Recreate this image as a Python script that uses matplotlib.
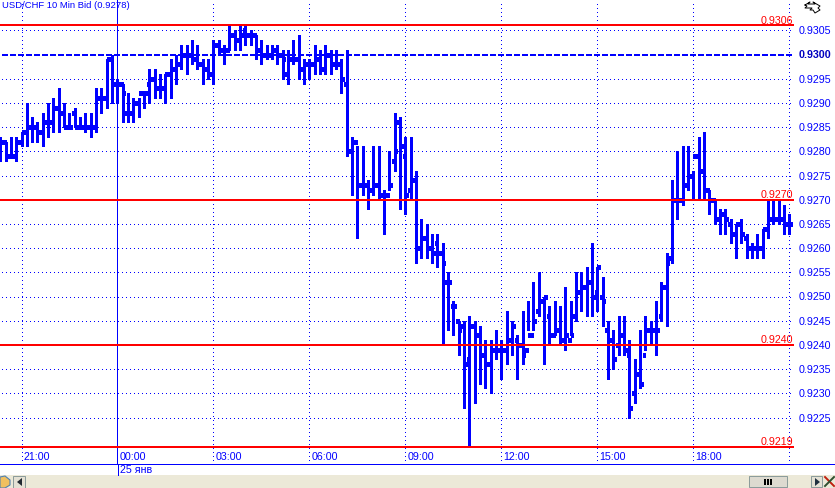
"""
USD/CHF 10 minute bid bar chart with support / resistance lines.
"""

import numpy as np
import matplotlib
matplotlib.use('Agg')
import matplotlib.pyplot as plt
from matplotlib.patches import Rectangle, Polygon

plt.rcParams['font.family'] = ['Liberation Sans', 'DejaVu Sans']

BLUE = '#0000FF'
RED = '#FF0000'

# prices in pips (0.0001), first bar is 40 minutes before 21:00
high = [9283, 9282, 9283, 9283, 9284,
        9290, 9287, 9286, 9288, 9290, 9291, 9293, 9290, 9288, 9289, 9287, 9288, 9288, 9293, 9293, 9299, 9300, 9295,
        9294, 9292, 9291, 9291, 9292, 9297, 9297, 9296, 9296, 9299, 9300, 9302, 9302, 9303, 9302, 9299, 9299, 9303,
        9303, 9302, 9306, 9305, 9306, 9306, 9305, 9304, 9303, 9302, 9302, 9302,
        9301, 9301, 9303, 9304, 9299, 9299, 9302, 9301, 9302, 9301, 9301, 9299, 9301, 9283, 9281, 9281, 9274, 9281,
        9281, 9272, 9280, 9288, 9287, 9283, 9283, 9276, 9266, 9265, 9263, 9263, 9261, 9255, 9249, 9245, 9245, 9246,
        9245, 9244, 9241, 9241, 9243, 9241, 9247, 9245, 9242, 9247, 9249, 9253, 9255, 9250, 9248, 9249, 9248, 9252,
        9249, 9255, 9255, 9256, 9261, 9256, 9254, 9245, 9243, 9246, 9246, 9241, 9237, 9243, 9246, 9245, 9249, 9253,
        9259, 9274, 9280, 9281, 9281, 9276, 9283, 9284, 9272, 9270, 9268, 9268, 9266, 9265, 9266, 9263, 9261, 9263,
        9264, 9270, 9270, 9270, 9269, 9267]
low = [9278, 9278, 9279, 9278, 9281,
       9281, 9282, 9282, 9281, 9283, 9284, 9284, 9285, 9285, 9285, 9285, 9284, 9283, 9284, 9288, 9289, 9290, 9290,
       9286, 9286, 9286, 9287, 9289, 9290, 9291, 9291, 9290, 9291, 9294, 9297, 9296, 9298, 9297, 9294, 9295, 9294,
       9300, 9298, 9301, 9301, 9301, 9302, 9302, 9299, 9298, 9299, 9299, 9298,
       9295, 9294, 9298, 9295, 9294, 9295, 9296, 9296, 9296, 9296, 9297, 9292, 9279, 9271, 9262, 9271, 9268, 9271,
       9270, 9263, 9272, 9276, 9268, 9267, 9270, 9257, 9258, 9258, 9257, 9256, 9240, 9243, 9242, 9238, 9227, 9219,
       9228, 9232, 9231, 9230, 9237, 9233, 9236, 9238, 9233, 9236, 9243, 9243, 9246, 9236, 9240, 9242, 9240, 9239,
       9242, 9245, 9247, 9246, 9246, 9247, 9244, 9233, 9235, 9238, 9238, 9225, 9228, 9231, 9239, 9240, 9238, 9245,
       9244, 9257, 9266, 9269, 9272, 9270, 9270, 9270, 9267, 9265, 9263, 9263, 9261, 9258, 9261, 9258, 9258, 9258,
       9258, 9262, 9265, 9265, 9263, 9263]
open_ = [9279, 9282, 9279, 9279, 9282,
         9284, 9285, 9285, 9284, 9286, 9286, 9289, 9288, 9285, 9288, 9285, 9285, 9285, 9285, 9291, 9291, 9299, 9294,
         9294, 9288, 9288, 9290, 9292, 9294, 9295, 9293, 9293, 9296, 9297, 9298, 9300, 9300, 9299, 9298, 9297, 9296,
         9302, 9301, 9301, 9304, 9303, 9305, 9304, 9304, 9301, 9300, 9300, 9301,
         9300, 9296, 9299, 9299, 9297, 9298, 9298, 9299, 9297, 9300, 9298, 9298, 9294, 9280, 9282, 9273, 9273, 9272,
         9273, 9271, 9271, 9278, 9286, 9279, 9272, 9274, 9260, 9262, 9260, 9261, 9259, 9253, 9248, 9245, 9244, 9237,
         9244, 9242, 9238, 9236, 9239, 9239, 9239, 9241, 9241, 9240, 9239, 9242, 9247, 9249, 9246, 9242, 9243, 9241,
         9241, 9246, 9251, 9252, 9253, 9251, 9250, 9243, 9241, 9240, 9242, 9238, 9230, 9234, 9238, 9243, 9243, 9246,
         9252, 9258, 9270, 9270, 9273, 9275, 9279, 9276, 9272, 9270, 9266, 9267, 9265, 9263, 9265, 9262, 9260, 9260,
         9260, 9264, 9266, 9266, 9266, 9265]
close = [9282, 9279, 9279, 9282, 9284,
         9285, 9285, 9284, 9286, 9286, 9289, 9288, 9285, 9285, 9285, 9285, 9285, 9285, 9291, 9291, 9299, 9294, 9294,
         9292, 9288, 9290, 9292, 9292, 9295, 9293, 9293, 9296, 9297, 9298, 9300, 9300, 9299, 9298, 9297, 9296, 9302,
         9301, 9301, 9304, 9303, 9304, 9304, 9304, 9301, 9300, 9300, 9301, 9300,
         9299, 9299, 9299, 9297, 9298, 9298, 9299, 9297, 9300, 9298, 9298, 9295, 9280, 9282, 9273, 9273, 9272, 9273,
         9271, 9271, 9273, 9280, 9281, 9271, 9274, 9260, 9262, 9260, 9259, 9259, 9257, 9253, 9248, 9243, 9236, 9244,
         9242, 9238, 9236, 9239, 9239, 9239, 9241, 9244, 9240, 9238, 9242, 9245, 9249, 9250, 9242, 9243, 9241, 9242,
         9242, 9251, 9252, 9253, 9250, 9256, 9249, 9241, 9237, 9242, 9239, 9227, 9234, 9232, 9243, 9243, 9243, 9252,
         9257, 9270, 9270, 9273, 9275, 9279, 9276, 9272, 9270, 9266, 9267, 9266, 9263, 9265, 9263, 9260, 9260, 9260,
         9264, 9266, 9266, 9266, 9265, 9265]

time_pos = [0, 18, 36, 54, 72, 90, 108, 126]
time_labels = ['21:00', '00:00', '03:00', '06:00', '09:00', '12:00', '15:00', '18:00']
grid_prices = [0.9225, 0.9230, 0.9235, 0.9240, 0.9245, 0.9250, 0.9255, 0.9260, 0.9265, 0.9270,
               0.9275, 0.9280, 0.9285, 0.9290, 0.9295, 0.9300, 0.9305]
red_levels = [0.9306, 0.9270, 0.9240, 0.9219]


def main():
    fig = plt.figure(figsize=(8.35, 4.88), dpi=100, facecolor='white')
    ax = fig.add_axes([0, 24.5 / 488, 794 / 835, 463.5 / 488])
    ax.set_facecolor('white')
    ax.set_xlim(-21.5 / 5.333, (794 - 21.5) / 5.333)
    ax.set_ylim(0.93 - 409.0 / 48400, 0.93 + 54.5 / 48400)
    for s in ax.spines.values():
        s.set_visible(False)

    dotted = (0, (1, 3))
    # dotted grid, 0.9300 gets its own dashed line, 00:00 a solid one
    for p in grid_prices:
        if p == 0.9300:
            continue
        ax.plot([-3.7, 144.6], [p, p], color=BLUE, lw=0.72, ls=dotted, antialiased=False, zorder=1)
    for t in time_pos + [144]:
        if t == 18:
            continue
        ax.plot([t, t], ax.get_ylim(), color=BLUE, lw=0.72, ls=dotted, antialiased=False, zorder=1)
    ax.plot([145, 145], [0.92195, 0.9312], color=BLUE, lw=0.72, ls=dotted, antialiased=False, zorder=1)
    ax.plot([18, 18], ax.get_ylim(), color=BLUE, lw=0.6, antialiased=False, zorder=1)
    ax.plot([-3.7, 145], [0.93, 0.93], color=BLUE, lw=1.44, ls=(0, (2.8, 1.4)), antialiased=False, zorder=2)

    # the bars
    t = np.arange(-4, -4 + len(high))
    h = np.array(high) / 1e4
    l = np.array(low) / 1e4
    o = np.array(open_) / 1e4
    c = np.array(close) / 1e4
    ax.vlines(t, l, h, colors=BLUE, lw=2.16, antialiaseds=False, zorder=3)
    ax.hlines(o, t - 0.5, t, colors=BLUE, lw=2.18, antialiaseds=False, zorder=3)
    ax.hlines(c, t, t + 0.5, colors=BLUE, lw=2.18, antialiaseds=False, zorder=3)

    for p in red_levels:
        ax.plot([-4.03, 145], [p, p], color=RED, lw=1.44, antialiased=False, zorder=4)
        ax.text(144.7, p - 0.00001, '%.4f' % p, color=RED, fontsize=7.7, ha='right', va='bottom', zorder=5)

    # price axis on the right
    ax.yaxis.tick_right()
    ax.set_yticks(grid_prices)
    ax.set_yticklabels(['%.4f' % p for p in grid_prices], color=BLUE, fontsize=7.7)
    ax.tick_params(axis='y', length=0, pad=3)
    for lab, p in zip(ax.get_yticklabels(), grid_prices):
        if p == 0.9300:
            lab.set_fontweight('bold')
            lab.set_color('#0000C0')

    # time labels sit inside the plot above the axis line
    ax.set_xticks([])
    y_lab = 0.93 - (457 - 54.5) / 48400
    for tp, lab in zip(time_pos, time_labels):
        ax.text(tp + 0.33, y_lab, lab, color=BLUE, fontsize=7.7, ha='left', va='center', zorder=5)

    # window chrome, in pixels
    ui = fig.add_axes([0, 0, 1, 1], facecolor='none')
    ui.set_xlim(0, 835)
    ui.set_ylim(488, 0)
    ui.axis('off')
    ui.text(2, 5, 'USD/CHF 10 Min Bid (0.9278)', color=BLUE, fontsize=6.8, ha='left', va='center')
    ui.plot([0, 835], [463.5, 463.5], color=BLUE, lw=0.6, antialiased=False)
    ui.plot([117.5, 117.5], [463.5, 475], color=BLUE, lw=0.6, antialiased=False)
    ui.text(120, 470, '25 янв', color=BLUE, fontsize=7.7, ha='left', va='center')

    ui.add_patch(Rectangle((0, 475), 835, 13, fc='#ECE9D8', ec='none'))
    ui.add_patch(Rectangle((13, 476), 12, 12, fc='#E4E1D4', ec='#8A9A9A', lw=0.7))
    ui.add_patch(Polygon([(22, 478), (22, 486), (17, 482)], fc='#202830', ec='none'))
    ui.add_patch(Rectangle((749, 476), 38, 11, fc='#DDDAD0', ec='#8A9A9A', lw=0.7))
    for xb in (764, 767, 770):
        ui.add_patch(Rectangle((xb, 478.5), 1.6, 6, fc='black', ec='none'))
    ui.add_patch(Rectangle((811, 476), 11, 11, fc='#E4E1D4', ec='#8A9A9A', lw=0.7))
    ui.add_patch(Polygon([(815, 478), (815, 486), (820, 482)], fc='#203040', ec='none'))
    ui.plot([825, 834], [477, 486], color='#C02010', lw=1.4)
    ui.plot([825, 834], [486, 477], color='#305030', lw=1.4)
    ui.add_patch(Polygon([(0, 477), (5, 476), (10, 480), (10, 485), (5, 488), (0, 488)],
                         fc='#F0C060', ec='#5080B0', lw=0.8))

    # small "zoom" icon top right
    ui.plot([805, 810, 808, 815, 813, 820, 818, 820, 815, 813, 810, 812, 805, 807, 805],
            [5, 2, 4, 4, 2, 6, 8, 10, 13, 10, 10, 8, 8, 6, 5], color='black', lw=0.7)

    fig.savefig('out.png', dpi=100, facecolor='white')
    plt.close(fig)


if __name__ == '__main__':
    main()
